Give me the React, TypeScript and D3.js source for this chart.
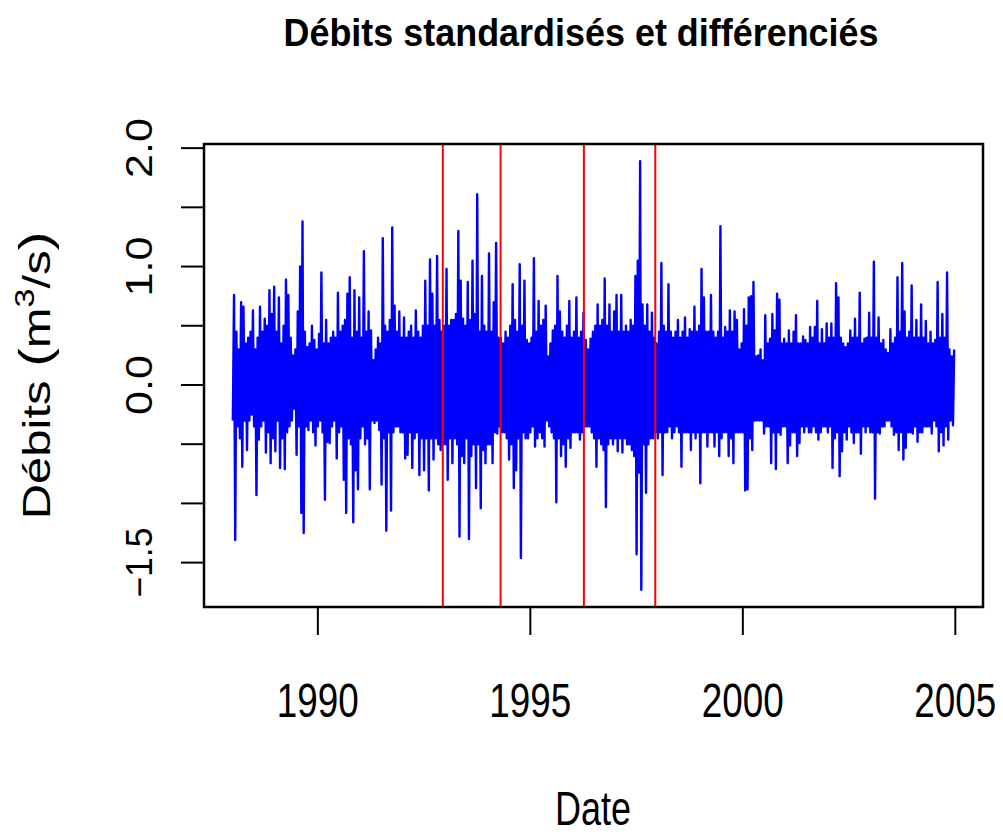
import * as d3 from "d3";

// standardised & differenced flows, 36 readings per year
const v1988 = [-0.30, 0.76, -1.31, 0.45, -0.35, 0.30, -0.45, 0.70, -0.69, 0.66, -0.30, 0.35, -0.55, 0.40, -0.30, 0.45, -0.25, 0.63, -0.35, 0.30, -0.93, 0.40, -0.46, 0.66, -0.35, 0.45, -0.30, 0.56, -0.57, 0.50, -0.40, 0.80, -0.66, 0.60, -0.45, 0.83];
const v1989 = [-0.56, 0.45, -0.30, 0.74, -0.70, 0.35, -0.45, 0.50, -0.71, 0.89, -0.40, 0.76, -0.35, 0.40, -0.30, 0.25, -0.20, 0.30, -0.59, 0.62, -0.35, 1.00, -1.08, 1.38, -1.25, 0.45, -0.35, 0.32, -0.38, 0.35, -0.30, 0.50, -0.40, 0.38, -0.51, 0.30];
const v1990 = [-0.35, 0.43, -0.30, 0.95, -0.40, 0.35, -0.97, 0.55, -0.48, 0.35, -0.49, 0.40, -0.35, 0.45, -0.30, 0.40, -0.62, 0.78, -0.40, 0.45, -0.35, 0.50, -0.80, 0.55, -1.08, 0.77, -0.45, 0.91, -0.50, 0.40, -1.16, 0.80, -0.72, 0.45, -0.88, 0.74];
const v1991 = [-0.45, 0.40, -0.35, 1.13, -0.50, 0.45, -0.45, 0.62, -0.88, 0.46, -0.30, 0.21, -0.32, 0.30, -0.30, 0.40, -0.38, 0.35, -0.84, 1.24, -0.45, 0.50, -1.23, 0.45, -0.40, 0.55, -1.06, 1.33, -0.40, 0.67, -0.35, 0.45, -0.35, 0.62, -0.40, 0.40];
const v1992 = [-0.40, 0.57, -0.62, 0.40, -0.59, 0.45, -0.40, 0.50, -0.70, 0.40, -0.45, 0.63, -0.40, 0.45, -0.76, 0.40, -0.45, 0.50, -0.72, 0.88, -0.45, 0.50, -0.89, 1.06, -0.45, 0.77, -0.63, 0.50, -0.45, 1.09, -0.50, 0.55, -0.55, 0.45, -0.50, 0.50];
const v1993 = [-0.50, 0.98, -0.80, 0.50, -0.45, 0.55, -0.66, 0.55, -0.45, 0.60, -0.50, 1.30, -1.28, 0.88, -0.60, 0.56, -0.66, 0.50, -0.45, 0.87, -1.30, 0.55, -0.60, 1.05, -0.50, 0.60, -0.87, 1.61, -0.50, 0.45, -1.04, 0.92, -0.55, 0.50, -0.66, 0.45];
const v1994 = [-0.50, 1.11, -0.50, 0.45, -0.66, 0.70, -0.40, 1.20, -0.41, 0.40, -0.35, 0.40, -0.40, 0.35, -0.40, 0.45, -0.45, 0.40, -0.63, 0.50, -0.50, 0.85, -0.87, 0.55, -0.72, 0.45, -0.45, 1.02, -1.46, 0.50, -0.40, 0.88, -0.45, 0.38, -0.45, 0.35];
const v1995 = [-0.40, 0.40, -0.35, 1.07, -0.52, 0.45, -0.45, 0.71, -0.40, 0.50, -0.45, 0.55, -0.52, 0.67, -0.30, 0.24, -0.35, 0.35, -0.40, 0.46, -0.45, 0.50, -0.99, 0.92, -0.45, 0.62, -0.60, 0.45, -0.50, 0.40, -0.69, 0.50, -0.45, 0.71, -0.53, 0.40];
const v1996 = [-0.40, 0.45, -0.40, 0.74, -0.40, 0.40, -0.46, 0.45, -0.40, 0.61, -0.35, 0.38, -0.35, 0.30, -0.35, 0.39, -0.40, 0.45, -0.45, 0.50, -0.69, 0.68, -0.45, 0.50, -0.50, 0.55, -0.55, 0.90, -1.03, 0.50, -0.50, 0.68, -0.45, 0.45, -0.50, 0.62];
const v1997 = [-0.45, 0.76, -0.56, 0.45, -0.45, 0.76, -0.57, 0.45, -0.45, 0.50, -0.50, 0.45, -0.50, 0.55, -0.55, 0.50, -0.60, 0.92, -1.43, 1.05, -0.74, 1.89, -1.73, 0.68, -0.50, 0.50, -0.91, 0.68, -0.50, 0.45, -0.45, 0.61, -0.45, 0.40, -0.40, 0.35];
const v1998 = [-0.45, 0.45, -0.40, 1.03, -0.76, 0.50, -0.40, 0.45, -0.40, 0.85, -0.35, 0.45, -0.45, 0.40, -0.40, 0.45, -0.35, 0.55, -0.40, 0.40, -0.69, 0.45, -0.40, 0.57, -0.40, 0.40, -0.40, 0.47, -0.55, 0.45, -0.40, 0.66, -0.45, 0.45, -0.40, 0.50];
const v1999 = [-0.83, 0.98, -0.40, 0.74, -0.40, 0.45, -0.52, 0.45, -0.40, 0.76, -0.40, 0.45, -0.52, 0.40, -0.40, 0.45, -0.60, 1.34, -0.45, 0.40, -0.40, 0.49, -0.40, 0.45, -0.60, 0.63, -0.45, 0.45, -0.66, 0.62, -0.40, 0.55, -0.40, 0.30, -0.40, 0.35];
const v2000 = [-0.40, 0.64, -0.89, 0.50, -0.88, 0.74, -0.45, 0.75, -0.55, 0.87, -0.30, 0.24, -0.30, 0.25, -0.30, 0.30, -0.30, 0.21, -0.41, 0.59, -0.35, 0.35, -0.35, 0.39, -0.66, 0.60, -0.40, 0.46, -0.71, 0.77, -0.40, 0.72, -0.42, 0.35, -0.35, 0.39];
const v2001 = [-0.35, 0.35, -0.66, 0.46, -0.51, 0.35, -0.40, 0.45, -0.40, 0.59, -0.60, 0.35, -0.49, 0.35, -0.35, 0.41, -0.40, 0.38, -0.35, 0.35, -0.40, 0.49, -0.40, 0.40, -0.35, 0.49, -0.40, 0.71, -0.46, 0.35, -0.40, 0.47, -0.35, 0.35, -0.35, 0.52];
const v2002 = [-0.40, 0.40, -0.35, 0.52, -0.70, 0.40, -0.45, 0.86, -0.40, 0.74, -0.77, 0.40, -0.56, 0.35, -0.40, 0.32, -0.46, 0.35, -0.35, 0.46, -0.40, 0.40, -0.49, 0.56, -0.40, 0.40, -0.40, 0.78, -0.58, 0.35, -0.35, 0.39, -0.40, 0.40, -0.35, 0.61];
const v2003 = [-0.40, 0.40, -0.40, 1.04, -0.96, 0.40, -0.40, 0.57, -0.41, 0.35, -0.35, 0.38, -0.35, 0.30, -0.30, 0.27, -0.30, 0.47, -0.35, 0.35, -0.42, 0.40, -0.40, 0.91, -0.55, 0.45, -0.40, 1.03, -0.63, 0.62, -0.53, 0.40, -0.40, 0.45, -0.40, 0.84];
const v2004 = [-0.41, 0.40, -0.35, 0.55, -0.48, 0.40, -0.40, 0.68, -0.40, 0.40, -0.35, 0.54, -0.35, 0.35, -0.35, 0.45, -0.41, 0.35, -0.30, 0.38, -0.35, 0.87, -0.56, 0.40, -0.40, 0.60, -0.51, 0.40, -0.35, 0.95, -0.46, 0.30, -0.30, 0.24, -0.34, 0.30];

const years = [1988, 1989, 1990, 1991, 1992, 1993, 1994, 1995, 1996, 1997, 1998, 1999, 2000, 2001, 2002, 2003, 2004];
const yearValues = [v1988, v1989, v1990, v1991, v1992, v1993, v1994, v1995, v1996, v1997, v1998, v1999, v2000, v2001, v2002, v2003, v2004];

// detected break dates (red lines)
const breakDates = [1992.94, 1994.3, 1996.26, 1997.94];

const xTicks = [1990, 1995, 2000, 2005];
const yTicks = [-1.5, -1, -0.5, 0, 0.5, 1, 1.5, 2];
const yLabelTicks = [-1.5, 0, 1, 2];

const W = 1003;
const H = 835;
const plot = { left: 204, right: 983, top: 144, bottom: 607 };
const FONT = "'Liberation Sans', Arial, Helvetica, sans-serif";

const series = years.flatMap((yr, k) => yearValues[k].map((v, i) => ({ t: yr + i / 36, v })));

// R-style 4% padding
function padded(ext: [number, number]): [number, number] {
  const r = ext[1] - ext[0];
  return [ext[0] - 0.04 * r, ext[1] + 0.04 * r];
}

export default function App() {
  const x = d3.scaleLinear().domain(padded(d3.extent(series, (d) => d.t) as [number, number])).range([plot.left, plot.right]);
  const y = d3.scaleLinear().domain(padded(d3.extent(series, (d) => d.v) as [number, number])).range([plot.bottom, plot.top]);

  const line = d3
    .line<{ t: number; v: number }>()
    .x((d) => x(d.t))
    .y((d) => y(d.v));

  const fmt = d3.format(".1f");

  return (
    <div style={{ position: "absolute", left: 0, top: 0 }}>
      <svg width={W} height={H} style={{ display: "block", background: "#fff" }} fontFamily={FONT}>
        <text x={581} y={46} fontSize={39} fontWeight="bold" textAnchor="middle" textLength={595} lengthAdjust="spacingAndGlyphs">
          Débits standardisés et différenciés
        </text>

        <path d={line(series) ?? ""} fill="none" stroke="#0000ff" strokeWidth={2.4} strokeLinejoin="round" />

        {breakDates.map((d) => (
          <line key={d} x1={x(d)} x2={x(d)} y1={plot.top} y2={plot.bottom} stroke="#ff0000" strokeWidth={2} />
        ))}

        <rect x={plot.left} y={plot.top} width={plot.right - plot.left} height={plot.bottom - plot.top} fill="none" stroke="#000" strokeWidth={2.5} />

        {xTicks.map((t) => (
          <g key={t}>
            <line x1={x(t)} x2={x(t)} y1={plot.bottom} y2={plot.bottom + 28} stroke="#000" strokeWidth={2} />
            <text x={x(t)} y={717} fontSize={48} textAnchor="middle" textLength={82} lengthAdjust="spacingAndGlyphs">
              {t}
            </text>
          </g>
        ))}

        {yTicks.map((t) => (
          <line key={t} x1={plot.left} x2={plot.left - 23} y1={y(t)} y2={y(t)} stroke="#000" strokeWidth={2} />
        ))}
        {yLabelTicks.map((t) => {
          const label = fmt(t);
          return (
            <text
              key={t}
              transform={`translate(152,${y(t)}) scale(0.8,1) rotate(-90)`}
              fontSize={46}
              textAnchor="middle"
              textLength={label.length > 3 ? 70 : 60}
              lengthAdjust="spacingAndGlyphs"
            >
              {label}
            </text>
          );
        })}

        <text x={593} y={825} fontSize={48} textAnchor="middle" textLength={76} lengthAdjust="spacingAndGlyphs">
          Date
        </text>

        <text transform={`translate(50,${(plot.top + plot.bottom) / 2}) scale(0.8,1) rotate(-90)`} fontSize={49} textAnchor="middle">
          Débits <tspan fontSize={56}>(</tspan>m<tspan fontSize={34} dy={-20}>3</tspan>
          <tspan dy={20}>/s</tspan>
          <tspan fontSize={56}>)</tspan>
        </text>
      </svg>
    </div>
  );
}
